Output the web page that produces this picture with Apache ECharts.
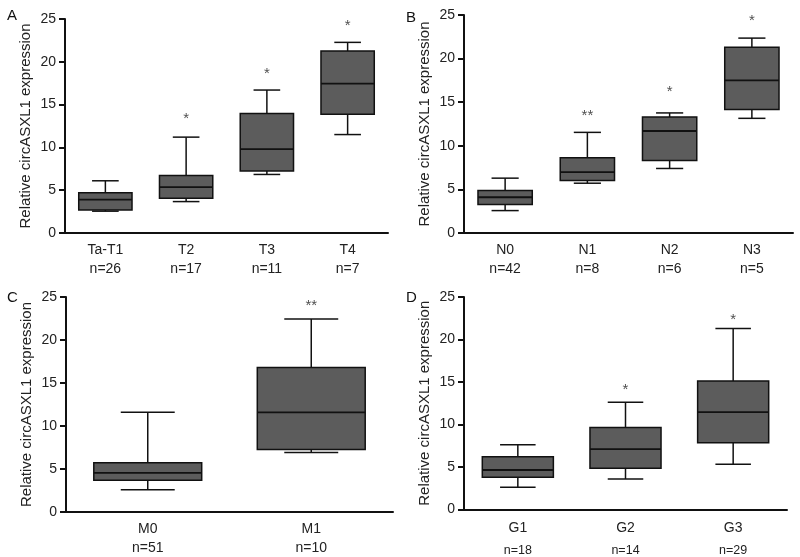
<!DOCTYPE html>
<html>
<head>
<meta charset="utf-8">
<script src="https://cdn.jsdelivr.net/npm/echarts@6/dist/echarts.min.js"></script>
<style>
html,body{margin:0;padding:0;background:#fff;}
#main{width:800px;height:557px;}
</style>
</head>
<body>
<div id="main"></div>
<script>
// ---- Data ----
const catsA = ['Ta-T1', 'T2', 'T3', 'T4'];
const nA = [26, 17, 11, 7];
const boxA = [[2.55, 2.7, 3.9, 4.7, 6.1], [3.67, 4.06, 5.35, 6.72, 11.2], [6.84, 7.23, 9.8, 13.95, 16.7], [11.5, 13.87, 17.46, 21.25, 22.27]];
const sigA = ['', '*', '*', '*'];
const sigYA = [null, 13.8, 19.1, 24.7];

const catsB = ['N0', 'N1', 'N2', 'N3'];
const nB = [42, 8, 6, 5];
const boxB = [[2.57, 3.26, 4.1, 4.87, 6.29], [5.71, 6.02, 6.98, 8.63, 11.54], [7.4, 8.32, 11.7, 13.3, 13.77], [13.15, 14.15, 17.5, 21.3, 22.35]];
const sigB = ['', '**', '*', '*'];
const sigYB = [null, 13.9, 16.6, 24.8];

const catsC = ['M0', 'M1'];
const nC = [51, 10];
const boxC = [[2.6, 3.69, 4.55, 5.72, 11.59], [6.92, 7.27, 11.59, 16.8, 22.43]];
const sigC = ['', '**'];
const sigYC = [null, 24.4];

const catsD = ['G1', 'G2', 'G3'];
const nD = [18, 14, 29];
const boxD = [[2.62, 3.79, 4.65, 6.21, 7.62], [3.59, 4.84, 7.1, 9.65, 12.62], [5.31, 7.85, 11.45, 15.12, 21.3]];
const sigD = ['', '*', '*'];
const sigYD = [null, 14.5, 22.8];

const yTicks = [0, 5, 10, 15, 20, 25];
const yTitle = 'Relative circASXL1 expression';
const panelLetters = ['A', 'B', 'C', 'D'];

// ---- Layout ----
const FONT = 'Liberation Sans, Arial, sans-serif';
const grids = [
  { left: 65, top: 19, width: 323, height: 214 },
  { left: 464, top: 15, width: 329, height: 218 },
  { left: 66, top: 297, width: 327, height: 215 },
  { left: 464, top: 297, width: 323, height: 214 }
];
const panels = [
  { cats: catsA, n: nA, box: boxA, sig: sigA, sigY: sigYA, small: false },
  { cats: catsB, n: nB, box: boxB, sig: sigB, sigY: sigYB, small: false },
  { cats: catsC, n: nC, box: boxC, sig: sigC, sigY: sigYC, small: false },
  { cats: catsD, n: nD, box: boxD, sig: sigD, sigY: sigYD, small: true }
];

function renderBox(params, api) {
  const x = api.value(0);
  const lo = api.coord([x, api.value(1)]);
  const q1 = api.coord([x, api.value(2)]);
  const md = api.coord([x, api.value(3)]);
  const q3 = api.coord([x, api.value(4)]);
  const hi = api.coord([x, api.value(5)]);
  const band = api.size([1, 0])[0];
  const bw = band * 0.66;
  const cw = bw * 0.5;
  const cx = lo[0];
  const ls = { stroke: '#111', lineWidth: 1.5 };
  return {
    type: 'group',
    children: [
      { type: 'line', shape: { x1: cx, y1: hi[1], x2: cx, y2: q3[1] }, style: ls },
      { type: 'line', shape: { x1: cx, y1: q1[1], x2: cx, y2: lo[1] }, style: ls },
      { type: 'line', shape: { x1: cx - cw / 2, y1: hi[1], x2: cx + cw / 2, y2: hi[1] }, style: ls },
      { type: 'line', shape: { x1: cx - cw / 2, y1: lo[1], x2: cx + cw / 2, y2: lo[1] }, style: ls },
      { type: 'rect', shape: { x: cx - bw / 2, y: q3[1], width: bw, height: q1[1] - q3[1] }, style: { fill: '#5c5c5c', stroke: '#111', lineWidth: 1.5 } },
      { type: 'line', shape: { x1: cx - bw / 2, y1: md[1], x2: cx + bw / 2, y2: md[1] }, style: { stroke: '#111', lineWidth: 1.8 } }
    ]
  };
}

const option = {
  backgroundColor: '#fff',
  animation: false,
  textStyle: { fontFamily: FONT },
  grid: grids,
  title: panelLetters.map((t, i) => ({
    text: t,
    left: [2, 401, 2, 401][i],
    top: [3, 5, 285, 285][i],
    textStyle: { fontFamily: FONT, fontSize: 15, fontWeight: 'normal', color: '#111' }
  })),
  xAxis: panels.map((p, i) => ({
    type: 'category',
    gridIndex: i,
    data: p.cats,
    axisLine: { lineStyle: { color: '#111', width: 2 } },
    axisTick: { alignWithLabel: true, length: 5, lineStyle: { color: '#111', width: 2 } },
    axisLabel: {
      margin: 8,
      formatter: (v, idx) => '{a|' + v + '}\n{b|n=' + p.n[idx] + '}',
      rich: {
        a: { fontFamily: FONT, fontSize: 14, color: '#222', lineHeight: p.small ? 22 : 19 },
        b: { fontFamily: FONT, fontSize: p.small ? 12.5 : 14, color: '#222', lineHeight: p.small ? 22 : 19 }
      }
    },
    splitLine: { show: false }
  })),
  yAxis: panels.map((p, i) => ({
    type: 'value',
    gridIndex: i,
    min: yTicks[0],
    max: yTicks[yTicks.length - 1],
    interval: yTicks[1] - yTicks[0],
    name: yTitle,
    nameLocation: 'middle',
    nameGap: 32,
    nameTextStyle: { fontFamily: FONT, fontSize: 15, color: '#222' },
    axisLine: { show: true, lineStyle: { color: '#111', width: 2 } },
    axisTick: { show: true, length: 6, lineStyle: { color: '#111', width: 2 } },
    axisLabel: { margin: 9, fontFamily: FONT, fontSize: 14, color: '#222' },
    splitLine: { show: false }
  })),
  series: []
};

panels.forEach((p, i) => {
  option.series.push({
    type: 'custom',
    xAxisIndex: i,
    yAxisIndex: i,
    renderItem: renderBox,
    encode: { x: 0, y: [1, 2, 3, 4, 5] },
    data: p.box.map((b, k) => [k].concat(b)),
    z: 2
  });
  option.series.push({
    type: 'scatter',
    xAxisIndex: i,
    yAxisIndex: i,
    symbolSize: 0,
    data: p.sigY.map((y, k) => (y == null ? null : { value: [k, y], sig: p.sig[k] })).filter(d => d),
    label: {
      show: true,
      position: 'inside',
      offset: [0, 4],
      formatter: (d) => d.data.sig,
      fontFamily: FONT,
      fontSize: 15,
      color: '#222'
    },
    z: 3
  });
});

const chart = echarts.init(document.getElementById('main'), null, { renderer: 'canvas' });
chart.setOption(option);
</script>
</body>
</html>
